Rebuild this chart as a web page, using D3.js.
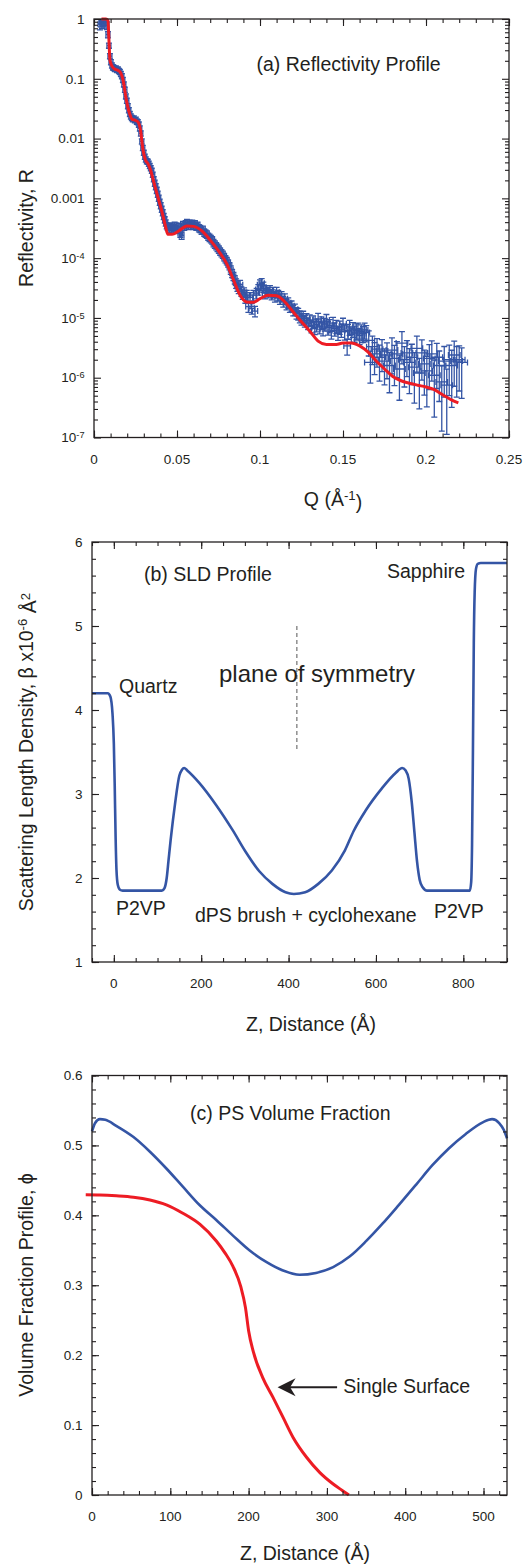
<!DOCTYPE html>
<html>
<head>
<meta charset="utf-8">
<script src="https://cdn.jsdelivr.net/npm/d3@7"></script>
<style>
  html, body { margin: 0; padding: 0; background: #fff; }
  svg { display: block; font-family: "Liberation Sans", Arial, Helvetica, sans-serif; }
</style>
</head>
<body>
<svg id="fig" width="531" height="1565"></svg>
<script>
// ---------- (a) reflectivity: measured points [Q, R, relative error of R, dQ] ----------
const measured = [
  [0.0036,0.82,0.2,0.0012],[0.0042,0.92,0.2,0.0012],[0.0048,0.86,0.2,0.0012],[0.0054,0.95,0.2,0.0012],
  [0.0060,0.88,0.2,0.0012],[0.0066,0.97,0.2,0.0012],[0.0072,0.90,0.15,0.0012],[0.0078,0.78,0.15,0.0012],
  [0.0084,0.55,0.12,0.0012],[0.0090,0.36,0.1,0.0012],[0.0096,0.24,0.1,0.0012],[0.0102,0.19,0.1,0.0012],
  [0.0108,0.168,0.1,0.0012],[0.0114,0.156,0.1,0.0012],[0.0120,0.152,0.1,0.0012],[0.0126,0.146,0.1,0.0012],
  [0.0132,0.149,0.1,0.0012],[0.0138,0.141,0.1,0.0012],[0.0144,0.143,0.1,0.0012],[0.0150,0.136,0.1,0.0012],
  [0.0156,0.131,0.1,0.0012],[0.0162,0.121,0.1,0.0012],[0.0168,0.111,0.1,0.0012],[0.0174,0.096,0.1,0.0012],
  [0.0180,0.081,0.1,0.0012],[0.0186,0.066,0.1,0.0012],[0.0192,0.051,0.1,0.0012],[0.0198,0.043,0.1,0.0012],
  [0.0204,0.035,0.1,0.0012],[0.0210,0.030,0.1,0.0012],[0.0216,0.026,0.1,0.0012],[0.0222,0.0235,0.1,0.0012],
  [0.0228,0.0222,0.1,0.0012],[0.0234,0.0212,0.1,0.0012],[0.0240,0.0218,0.1,0.0012],[0.0246,0.0203,0.1,0.0012],
  [0.0252,0.0208,0.1,0.0012],[0.0258,0.0193,0.1,0.0012],[0.0264,0.0188,0.1,0.0012],[0.0270,0.0172,0.1,0.0012],
  [0.0276,0.0148,0.1,0.0012],[0.0282,0.0122,0.1,0.0012],[0.0288,0.0090,0.1,0.0012],[0.0294,0.0070,0.1,0.0012],
  [0.0300,0.0058,0.1,0.0012],[0.0306,0.0050,0.1,0.0012],[0.0312,0.0045,0.1,0.0012],[0.0318,0.0042,0.1,0.0012],
  [0.0324,0.0041,0.1,0.0012],[0.0330,0.0038,0.1,0.0012],[0.0336,0.0035,0.1,0.0012],[0.0342,0.0032,0.1,0.0012],
  [0.0348,0.0029,0.1,0.0012],[0.0354,0.0025,0.1,0.0012],[0.0360,0.0021,0.1,0.0012],[0.0366,0.0018,0.12,0.0012],
  [0.0372,0.00158,0.12,0.0012],[0.0378,0.00137,0.12,0.0012],[0.0384,0.00118,0.12,0.0012],[0.0390,0.00101,0.12,0.0012],
  [0.0396,0.00087,0.12,0.0012],[0.0402,0.00076,0.12,0.0012],[0.0408,0.00066,0.12,0.0012],[0.0414,0.00058,0.12,0.0012],
  [0.0420,0.00050,0.12,0.0012],[0.0426,0.00044,0.12,0.0012],[0.0432,0.00039,0.12,0.0012],[0.0438,0.00035,0.12,0.0012],
  [0.0444,0.00033,0.12,0.0012],[0.0450,0.00034,0.12,0.0012],[0.0456,0.00031,0.14,0.0014],[0.0462,0.00033,0.14,0.0014],
  [0.0468,0.00030,0.14,0.0014],[0.0474,0.00034,0.14,0.0014],[0.0480,0.00032,0.14,0.0014],[0.0486,0.00035,0.14,0.0014],
  [0.0492,0.00031,0.14,0.0014],[0.0498,0.00034,0.14,0.0014],[0.0505,0.00030,0.14,0.0014],[0.0512,0.00033,0.14,0.0014],
  [0.0520,0.00026,0.14,0.0014],[0.0528,0.00024,0.14,0.0014],[0.0536,0.00036,0.14,0.0014],[0.0544,0.00034,0.14,0.0014],
  [0.0552,0.00037,0.14,0.0014],[0.0560,0.00039,0.14,0.0014],[0.0568,0.00035,0.14,0.0014],[0.0576,0.00038,0.14,0.0014],
  [0.0584,0.00036,0.14,0.0014],[0.0592,0.00038,0.14,0.0014],[0.0600,0.00035,0.14,0.0014],[0.0608,0.00037,0.14,0.0014],
  [0.0616,0.00034,0.14,0.0014],[0.0624,0.00035,0.14,0.0014],[0.0632,0.00032,0.14,0.0014],[0.0640,0.00031,0.14,0.0014],
  [0.0648,0.00029,0.14,0.0014],[0.0656,0.00030,0.14,0.0014],[0.0664,0.00027,0.14,0.0014],[0.0672,0.00026,0.14,0.0014],
  [0.0680,0.00025,0.14,0.0014],[0.0688,0.00023,0.14,0.0014],[0.0696,0.00022,0.14,0.0014],[0.0704,0.00021,0.14,0.0014],
  [0.0712,0.00020,0.14,0.0014],[0.0720,0.00018,0.14,0.0014],[0.0728,0.00017,0.14,0.0014],[0.0736,0.00016,0.14,0.0014],
  [0.0744,0.00015,0.14,0.0014],[0.0752,0.00014,0.14,0.0014],[0.0760,0.00013,0.14,0.0014],[0.0768,0.000122,0.14,0.0014],
  [0.0776,0.000115,0.14,0.0014],[0.0784,0.000105,0.14,0.0014],[0.0792,0.000097,0.14,0.0014],[0.0800,0.000090,0.14,0.0014],
  [0.0808,0.000082,0.14,0.0014],[0.0816,0.000074,0.14,0.0014],[0.0824,0.000064,0.16,0.0014],[0.0832,0.000056,0.16,0.0014],
  [0.0840,0.000050,0.16,0.0014],[0.0848,0.000044,0.16,0.0014],[0.0856,0.000038,0.18,0.0016],[0.0864,0.000034,0.18,0.0016],
  [0.0872,0.000031,0.18,0.0016],[0.0880,0.000036,0.18,0.0016],[0.0888,0.000028,0.18,0.0016],[0.0896,0.000025,0.18,0.0016],
  [0.0904,0.000027,0.18,0.0016],[0.0912,0.000022,0.2,0.0016],[0.0920,0.000024,0.2,0.0016],[0.0930,0.0000155,0.2,0.0016],
  [0.0940,0.000022,0.2,0.0016],[0.0950,0.0000145,0.2,0.0016],[0.0960,0.000024,0.2,0.0016],[0.0970,0.000013,0.2,0.0016],
  [0.0980,0.000026,0.2,0.0016],[0.0990,0.000030,0.2,0.0016],[0.1000,0.000036,0.2,0.0016],[0.1010,0.000038,0.2,0.0016],
  [0.1020,0.000033,0.2,0.0016],[0.1030,0.000026,0.2,0.0016],[0.1040,0.000029,0.2,0.0016],[0.1050,0.000027,0.2,0.0016],
  [0.1060,0.000029,0.2,0.0016],[0.1070,0.000025,0.2,0.0016],[0.1080,0.000027,0.2,0.0016],[0.1090,0.000023,0.2,0.0016],
  [0.1100,0.000027,0.2,0.0016],[0.1110,0.000024,0.2,0.0016],[0.1120,0.000021,0.2,0.0016],[0.1130,0.000023,0.2,0.0016],
  [0.1140,0.000019,0.2,0.0016],[0.1150,0.000021,0.2,0.0016],[0.1160,0.000017,0.2,0.0016],[0.1170,0.000018,0.2,0.0016],
  [0.1180,0.0000155,0.2,0.0016],[0.1190,0.000016,0.2,0.0016],[0.1200,0.0000135,0.2,0.0016],[0.1210,0.000014,0.22,0.0018],
  [0.1220,0.0000122,0.22,0.0018],[0.1230,0.0000118,0.22,0.0018],[0.1240,0.0000106,0.22,0.0018],[0.1250,0.0000097,0.22,0.0018],
  [0.1260,0.0000106,0.22,0.0018],[0.1270,0.0000090,0.22,0.0018],[0.1280,0.0000097,0.22,0.0018],[0.1290,0.0000082,0.22,0.0018],
  [0.1300,0.0000092,0.22,0.0018],[0.1310,0.0000074,0.24,0.0018],[0.1320,0.0000087,0.24,0.0018],[0.1330,0.0000069,0.24,0.0018],
  [0.1340,0.0000077,0.24,0.0018],[0.1350,0.0000096,0.24,0.0018],[0.1360,0.0000071,0.24,0.0018],[0.1370,0.0000084,0.24,0.0018],
  [0.1380,0.0000066,0.24,0.0018],[0.1390,0.0000079,0.24,0.0018],[0.1400,0.0000092,0.24,0.0018],[0.1410,0.0000069,0.25,0.002],
  [0.1420,0.0000075,0.25,0.002],[0.1430,0.0000059,0.25,0.002],[0.1440,0.0000082,0.25,0.002],[0.1450,0.0000066,0.25,0.002],
  [0.1460,0.0000073,0.25,0.002],[0.1470,0.0000056,0.25,0.002],[0.1480,0.0000071,0.25,0.002],[0.1490,0.0000063,0.25,0.002],
  [0.1500,0.0000079,0.25,0.002],[0.1510,0.0000059,0.28,0.002],[0.1525,0.0000034,0.3,0.002],[0.1530,0.0000061,0.28,0.002],
  [0.1540,0.0000071,0.28,0.002],[0.1550,0.0000053,0.28,0.002],[0.1560,0.0000065,0.28,0.002],[0.1570,0.0000056,0.3,0.002],
  [0.1580,0.0000061,0.3,0.002],[0.1590,0.0000063,0.3,0.002],[0.1600,0.0000051,0.3,0.002],[0.1610,0.0000059,0.3,0.002],
  [0.1620,0.0000055,0.3,0.002],[0.1630,0.0000063,0.3,0.002],[0.1640,0.0000057,0.3,0.002],
  [0.1655,0.0000042,0.45,0.0035],[0.1665,0.0000018,0.55,0.0035],[0.1677,0.0000033,0.5,0.0035],[0.1690,0.0000025,0.55,0.0035],
  [0.1705,0.0000030,0.5,0.0035],[0.1720,0.0000022,0.6,0.0035],[0.1735,0.0000028,0.55,0.0035],[0.1750,0.0000019,0.6,0.0035],
  [0.1765,0.0000024,0.6,0.0035],[0.1780,0.0000016,0.65,0.0035],[0.1795,0.0000029,0.6,0.0035],[0.1810,0.0000021,0.65,0.0035],
  [0.1825,0.0000025,0.6,0.0035],[0.1840,0.0000014,0.7,0.0035],[0.1855,0.0000038,0.55,0.0035],[0.1870,0.0000020,0.65,0.0035],
  [0.1885,0.0000026,0.6,0.0035],[0.1900,0.0000018,0.7,0.0035],[0.1915,0.0000022,0.65,0.0035],[0.1930,0.0000015,0.75,0.0035],
  [0.1945,0.0000031,0.6,0.0035],[0.1960,0.0000012,0.75,0.0035],[0.1975,0.0000026,0.65,0.0035],[0.1990,0.0000017,0.7,0.0035],
  [0.2005,0.0000013,0.75,0.0035],[0.2020,0.0000021,0.7,0.0035],[0.2035,0.0000025,0.65,0.0035],[0.2050,0.0000011,0.8,0.0035],
  [0.2065,0.0000022,0.7,0.0035],[0.2080,0.0000016,0.75,0.0035],[0.2095,0.00000085,0.85,0.0035],[0.2110,0.0000019,0.75,0.0035],
  [0.2125,0.00000075,0.85,0.0035],[0.2140,0.0000020,0.75,0.0035],[0.2155,0.0000016,0.8,0.0035],[0.2170,0.0000024,0.7,0.0035],
  [0.2185,0.0000019,0.75,0.0035],[0.2200,0.0000020,0.7,0.0035],[0.2215,0.0000018,0.75,0.0035]
];

// model fit [Q, R]
const fitCurve = [
  [0.0045,1.0],[0.0060,1.0],[0.0072,1.0],[0.0084,0.95],[0.0090,0.45],[0.0096,0.206],[0.0108,0.164],
  [0.0124,0.146],[0.0140,0.14],[0.0157,0.13],[0.0175,0.095],[0.0195,0.044],[0.0213,0.027],[0.0230,0.021],
  [0.0247,0.0204],[0.0265,0.019],[0.0280,0.0139],[0.0295,0.0065],[0.0310,0.0044],[0.0325,0.0038],
  [0.0340,0.0030],[0.0360,0.00188],[0.0385,0.00105],[0.0410,0.00059],[0.0430,0.000346],[0.0445,0.00025],
  [0.0470,0.00025],[0.0510,0.000285],[0.0560,0.000346],[0.0600,0.00034],[0.0650,0.000285],[0.0700,0.0002],
  [0.0750,0.000132],[0.0800,0.00008],[0.0840,0.0000435],[0.0880,0.000024],[0.0920,0.0000185],
  [0.0960,0.0000183],[0.1000,0.000021],[0.1050,0.000024],[0.1100,0.0000235],[0.1150,0.0000185],
  [0.1200,0.0000126],[0.1250,0.0000086],[0.1300,0.000006],[0.1350,0.0000041],[0.1400,0.0000036],
  [0.1460,0.0000036],[0.1500,0.0000038],[0.1550,0.0000038],[0.1600,0.0000034],[0.1650,0.0000027],
  [0.1700,0.0000019],[0.1750,0.0000014],[0.1800,0.00000105],[0.1850,0.00000089],[0.1900,0.00000081],
  [0.1950,0.00000075],[0.2000,0.0000007],[0.2050,0.00000063],[0.2100,0.00000052],[0.2150,0.00000043],
  [0.2195,0.00000038]
];

const qTicks = [0, 0.05, 0.1, 0.15, 0.2, 0.25];
const qTickLabels = ["0", "0.05", "0.1", "0.15", "0.2", "0.25"];
const rExponents = [0, -1, -2, -3, -4, -5, -6, -7];
const rPlainLabels = { "0": "1", "-1": "0.1", "-2": "0.01", "-3": "0.001" };

// ---------- (b) SLD profile [z (Å), SLD x1e-6 Å^-2] ----------
const sldProfile = [
  [-50,4.20],[-14,4.20],[-8,4.16],[-3,3.95],[0,3.6],[2,3.1],[4,2.5],[6,2.1],[9,1.92],[14,1.86],[20,1.85],
  [110,1.85],[116,1.88],[121,2.0],[125,2.2],[130,2.45],[140,2.88],[150,3.22],[156,3.29],[161,3.31],
  [168,3.28],[196,3.13],[234,2.87],[272,2.57],[302,2.31],[333,2.08],[363,1.93],[393,1.83],[412,1.81],
  [438,1.83],[468,1.93],[499,2.09],[529,2.33],[549,2.56],[576,2.80],[614,3.07],[645,3.25],[660,3.31],
  [668,3.28],[675,3.18],[682,2.9],[688,2.55],[694,2.2],[700,1.98],[707,1.89],[717,1.85],[815,1.85],
  [818,1.95],[820,2.4],[822,3.5],[824,4.8],[826,5.4],[829,5.68],[833,5.74],[840,5.75],[900,5.75]
];
const zTicksB = [0, 200, 400, 600, 800];
const sldTicks = [1, 2, 3, 4, 5, 6];
const symmetryPlane = { z: 419, from: 5.0, to: 3.5 };

// ---------- (c) PS volume fraction [z (Å), phi] ----------
const phiConfined = [
  [0,0.52],[4,0.532],[10,0.5376],[17,0.5367],[31,0.528],[53,0.512],[74,0.491],[95,0.467],[116,0.441],
  [138,0.414],[159,0.393],[180,0.371],[201,0.350],[223,0.333],[244,0.321],[265,0.315],[286,0.3176],
  [308,0.326],[329,0.341],[350,0.363],[371,0.388],[392,0.415],[414,0.444],[435,0.472],[456,0.496],
  [477,0.516],[499,0.533],[511,0.5376],[520,0.532],[526,0.522],[530,0.51]
];
const phiSingle = [
  [-8,0.4295],[10,0.4292],[31,0.428],[53,0.426],[74,0.422],[95,0.415],[116,0.403],[138,0.387],
  [159,0.363],[170,0.346],[180,0.327],[190,0.298],[196,0.268],[200,0.235],[206,0.205],[218,0.168],
  [231,0.140],[244,0.111],[257,0.082],[274,0.054],[291,0.032],[308,0.0157],[320,0.0062],[328,0]
];
const zTicksC = [0, 100, 200, 300, 400, 500];
const phiTicks = [0, 0.1, 0.2, 0.3, 0.4, 0.5, 0.6];
const singleArrow = { tipZ: 237, tailZ: 313, phi: 0.154, labelZ: 321 };

// ---------- drawing ----------
const INK = "#231f20", BLUE = "#3455a5", RED = "#ed1c24";
const svg = d3.select("#fig");
svg.append("rect").attr("width", 531).attr("height", 1565).attr("fill", "#fff");

function tickSet(g, orient, scale, values, len, pos) {
  const make = { bottom: d3.axisBottom, top: d3.axisTop, left: d3.axisLeft, right: d3.axisRight }[orient];
  const ax = make(scale).tickValues(values).tickFormat("").tickSizeInner(-len).tickSizeOuter(0);
  const horiz = orient === "bottom" || orient === "top";
  const a = g.append("g").attr("transform", horiz ? `translate(0,${pos})` : `translate(${pos},0)`).call(ax);
  a.select(".domain").remove();
  a.selectAll(".tick line").attr("stroke", INK).attr("stroke-width", 1.1);
}

function frame(g, x, y, xMajor, xMinor, yMajor, yMinor) {
  const [xl, xr] = x.range(), [yb, yt] = y.range();
  [["bottom", x, xMajor, xMinor, yb], ["top", x, xMajor, xMinor, yt],
   ["left", y, yMajor, yMinor, xl], ["right", y, yMajor, yMinor, xr]].forEach(([o, s, maj, min, p]) => {
    tickSet(g, o, s, min, 4, p);
    tickSet(g, o, s, maj, 7, p);
  });
  g.append("rect").attr("x", xl).attr("y", yt).attr("width", xr - xl).attr("height", yb - yt)
    .attr("fill", "none").attr("stroke", INK).attr("stroke-width", 1.3);
}

function xLabels(g, x, y, vals, fmt) {
  g.append("g").selectAll("text").data(vals).join("text")
    .attr("x", d => x(d)).attr("y", y.range()[0] + 26)
    .attr("text-anchor", "middle").attr("font-size", 13.5).attr("fill", INK).text(fmt);
}
function yLabels(g, x, y, vals, fmt) {
  g.append("g").selectAll("text").data(vals).join("text")
    .attr("x", x.range()[0] - 9.5).attr("y", d => y(d)).attr("dy", "0.35em")
    .attr("text-anchor", "end").attr("font-size", 13.5).attr("fill", INK).text(fmt);
}
function label(g, x, y, txt, size, anchor) {
  return g.append("text").attr("x", x).attr("y", y).attr("font-size", size)
    .attr("text-anchor", anchor || "start").attr("fill", INK).text(txt);
}
function yTitle(g, y, yc, size) {
  return g.append("text").attr("transform", `translate(33,${yc}) rotate(-90)`)
    .attr("text-anchor", "middle").attr("font-size", size).attr("fill", INK);
}
function sup(t, s) { t.append("tspan").attr("dy", "-0.45em").attr("font-size", "0.68em").text(s); }

// ===== panel (a) =====
const xA = d3.scaleLinear().domain([0, 0.25]).range([94, 509]);
const yA = d3.scaleLog().domain([1e-7, 1]).range([437.5, 19]);
const gA = svg.append("g");
svg.append("defs").append("clipPath").attr("id", "clipA").append("rect")
  .attr("x", 94).attr("y", 19).attr("width", 415).attr("height", 418.5);

const cap = 3;
gA.append("g").attr("clip-path", "url(#clipA)")
  .selectAll("path").data(measured).join("path")
  .attr("fill", "none").attr("stroke", BLUE).attr("stroke-width", 1.3)
  .attr("d", ([q, r, rel, dq]) => {
    const cx = xA(q), cy = yA(r);
    const hi = yA(r * (1 + rel)), lo = yA(Math.max(r * (1 - rel), 1e-9));
    const l = xA(q - dq), rr = xA(q + dq);
    return `M${cx},${hi}V${lo}M${cx - cap},${hi}H${cx + cap}M${cx - cap},${lo}H${cx + cap}` +
           `M${l},${cy}H${rr}M${l},${cy - cap}V${cy + cap}M${rr},${cy - cap}V${cy + cap}`;
  });

gA.append("path").datum(fitCurve)
  .attr("fill", "none").attr("stroke", RED).attr("stroke-width", 3).attr("stroke-linejoin", "round")
  .attr("d", d3.line().x(d => xA(d[0])).y(d => yA(d[1])).curve(d3.curveMonotoneX));

const rMinor = [];
rExponents.slice(1).forEach(e => { for (let k = 2; k <= 9; k++) rMinor.push(k * Math.pow(10, e)); });
frame(gA, xA, yA, qTicks, d3.range(0, 0.2501, 0.01), rExponents.map(e => Math.pow(10, e)), rMinor);
xLabels(gA, xA, yA, qTicks, (d, i) => qTickLabels[i]);
gA.append("g").selectAll("text").data(rExponents).join("text")
  .attr("x", 84.5).attr("y", e => yA(Math.pow(10, e))).attr("dy", "0.35em")
  .attr("text-anchor", "end").attr("font-size", 13.5).attr("fill", INK)
  .each(function (e) {
    const t = d3.select(this);
    if (rPlainLabels[e] !== undefined) t.text(rPlainLabels[e]);
    else { t.append("tspan").text("10"); sup(t, "-" + (-e)); }
  });

label(gA, 256.5, 70.5, "(a) Reflectivity Profile", 19.5);
yTitle(gA, yA, 228, 19.5).text("Reflectivity, R");
{
  const t = label(gA, 333, 506, "", 19.5, "middle");
  t.append("tspan").text("Q (Å");
  sup(t, "-1");
  t.append("tspan").attr("dy", "0.45em").text(")");
}

// ===== panel (b) =====
const xB = d3.scaleLinear().domain([-50, 900]).range([92, 507]);
const yB = d3.scaleLinear().domain([1, 6]).range([962, 542]);
const gB = svg.append("g");

gB.append("line")
  .attr("x1", xB(symmetryPlane.z)).attr("x2", xB(symmetryPlane.z))
  .attr("y1", yB(symmetryPlane.from)).attr("y2", yB(symmetryPlane.to))
  .attr("stroke", "#555").attr("stroke-width", 1).attr("stroke-dasharray", "4,3");

gB.append("path").datum(sldProfile)
  .attr("fill", "none").attr("stroke", BLUE).attr("stroke-width", 2.6).attr("stroke-linejoin", "round")
  .attr("d", d3.line().x(d => xB(d[0])).y(d => yB(d[1])).curve(d3.curveMonotoneX));

frame(gB, xB, yB, zTicksB, d3.range(-50, 901, 50), sldTicks, d3.range(1, 6.01, 0.2));
xLabels(gB, xB, yB, zTicksB, d => d);
yLabels(gB, xB, yB, sldTicks, d => d);

label(gB, 144, 581, "(b) SLD Profile", 19.5);
label(gB, 387, 578, "Sapphire", 19.5);
label(gB, 119, 693, "Quartz", 19.5);
label(gB, 219, 682, "plane of symmetry", 24);
label(gB, 116, 915, "P2VP", 19.5);
label(gB, 195, 922, "dPS brush + cyclohexane", 19.5);
label(gB, 434, 918, "P2VP", 19.5);
{
  const t = yTitle(gB, yB, 752, 19.5);
  t.append("tspan").text("Scattering Length Density, β x10");
  sup(t, "-6");
  t.append("tspan").attr("dy", "0.45em").text(" Å");
  sup(t, "2");
}
label(gB, 311, 1031, "Z, Distance (Å)", 19.5, "middle");

// ===== panel (c) =====
const xC = d3.scaleLinear().domain([0, 530]).range([92, 507]);
const yC = d3.scaleLinear().domain([0, 0.6]).range([1495, 1075.5]);
const gC = svg.append("g");

const lineC = d3.line().x(d => xC(d[0])).y(d => yC(d[1])).curve(d3.curveMonotoneX);
gC.append("path").datum(phiConfined)
  .attr("fill", "none").attr("stroke", BLUE).attr("stroke-width", 2.6).attr("d", lineC);
gC.append("path").datum(phiSingle)
  .attr("fill", "none").attr("stroke", RED).attr("stroke-width", 3).attr("d", lineC);

frame(gC, xC, yC, zTicksC, d3.range(0, 530, 20), phiTicks, d3.range(0, 0.601, 0.02));
xLabels(gC, xC, yC, zTicksC, d => d);
yLabels(gC, xC, yC, phiTicks, d => d === 0 ? "0" : d3.format(".1f")(d));

{
  const tx = xC(singleArrow.tipZ), ty = yC(singleArrow.phi), bx = xC(singleArrow.tailZ);
  gC.append("line").attr("x1", tx + 12).attr("x2", bx).attr("y1", ty).attr("y2", ty)
    .attr("stroke", INK).attr("stroke-width", 2);
  gC.append("path").attr("fill", INK)
    .attr("d", `M${tx},${ty}L${tx + 18},${ty - 9}L${tx + 12.5},${ty}L${tx + 18},${ty + 9}Z`);
  label(gC, xC(singleArrow.labelZ), ty + 5.5, "Single Surface", 19.5);
}

label(gC, 190, 1120, "(c) PS Volume Fraction", 19.5);
yTitle(gC, yC, 1285, 19.5).text("Volume Fraction Profile, ϕ");
label(gC, 305, 1560, "Z, Distance (Å)", 19.5, "middle");
</script>
</body>
</html>
